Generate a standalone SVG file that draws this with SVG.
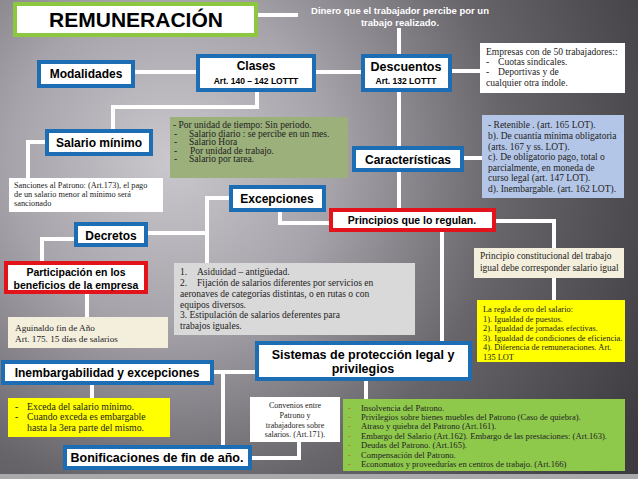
<svg xmlns="http://www.w3.org/2000/svg" width="638" height="479" viewBox="0 0 638 479">
<defs>
<radialGradient id="bg" cx="170" cy="160" r="540" gradientUnits="userSpaceOnUse">
<stop offset="0" stop-color="#cac7cd"/>
<stop offset="0.3" stop-color="#a6a3aa"/>
<stop offset="0.62" stop-color="#67646a"/>
<stop offset="1" stop-color="#3d3b3f"/>
</radialGradient>
<style>
.bb{fill:#fff;stroke:#1c6db4;stroke-width:4}
.rb{fill:#fff;stroke:#e2131b;stroke-width:4}
.c{stroke:#fff;stroke-width:4;fill:none}
.h{font-family:"Liberation Sans",Arial,sans-serif;font-weight:bold;fill:#000;text-anchor:middle}
.s{font-family:"Liberation Serif","Times New Roman",serif;font-size:9.5px;fill:#222}
.d{fill:#c55a11}
</style>
</defs>
<rect x="0" y="0" width="638" height="479" fill="url(#bg)"/>
<rect x="0" y="474" width="638" height="5" fill="#a9a9ab"/>

<g id="connectors">
<path class="c" d="M256 15 H298"/>
<path class="c" d="M399 28 V56"/>
<path class="c" d="M133 72 H198"/>
<path class="c" d="M314 72 H363"/>
<path class="c" d="M450 71 H481"/>
<path class="c" d="M257 90 V107 H113 V131"/>
<path class="c" d="M47 142 H28 V178"/>
<path class="c" d="M399 90 V148"/>
<path class="c" d="M462 158 H482"/>
<path class="c" d="M399 170 V209"/>
<path class="c" d="M231 198 H207 V263"/>
<path class="c" d="M146 233 H207"/>
<path class="c" d="M280 210 V223 H331"/>
<path class="c" d="M76 239 H42 V263"/>
<path class="c" d="M87 293 V317"/>
<path class="c" d="M494 221 H554 V248"/>
<path class="c" d="M554 277 V300"/>
<path class="c" d="M442 230 V343"/>
<path class="c" d="M257 372 H212"/>
<path class="c" d="M223 372 V447"/>
<path class="c" d="M92 383 V398"/>
<path class="c" d="M250 458 H299 V442"/>
<path class="c" d="M366 379 V399"/>
</g>

<g id="remuneracion">
<rect x="15" y="4" width="241" height="31" fill="#fff" stroke="#8dc63f" stroke-width="4"/>
<text class="h" x="136" y="27" font-size="21">REMUNERACIÓN</text>
</g>
<g id="dinero">
<text x="400" y="14" font-family="Liberation Sans,Arial,sans-serif" font-weight="bold" font-size="9.5" fill="#fff" text-anchor="middle">Dinero que el trabajador percibe por un</text>
<text x="400" y="26" font-family="Liberation Sans,Arial,sans-serif" font-weight="bold" font-size="9.5" fill="#fff" text-anchor="middle">trabajo realizado.</text>
</g>
<g id="modalidades">
<rect class="bb" x="39" y="62" width="94" height="24"/>
<text class="h" x="86" y="78" font-size="12">Modalidades</text>
</g>
<g id="clases">
<rect class="bb" x="198" y="56" width="116" height="34"/>
<text class="h" x="256" y="70" font-size="12">Clases</text>
<text class="h" x="256" y="84" font-size="8.5">Art. 140 – 142 LOTTT</text>
</g>
<g id="descuentos">
<rect class="bb" x="363" y="56" width="87" height="34"/>
<text class="h" x="406" y="71" font-size="12.5">Descuentos</text>
<text class="h" x="406" y="84" font-size="8.5">Art. 132 LOTTT</text>
</g>
<g id="empresas">
<rect x="480" y="43" width="145" height="50" fill="#fff"/>
<text class="s" x="486" y="55" style="font-size:9.6px">Empresas con de 50 trabajadores::</text>
<text class="s" x="486" y="65" style="font-size:9.6px">-</text><text class="s" x="498" y="65" style="font-size:9.6px">Cuotas sindicales.</text>
<text class="s" x="486" y="75" style="font-size:9.6px">-</text><text class="s" x="498" y="75" style="font-size:9.6px">Deportivas y de</text>
<text class="s" x="486" y="86" style="font-size:9.6px">cualquier otra índole.</text>
</g>
<g id="salario-minimo">
<rect class="bb" x="47" y="131" width="104" height="23"/>
<text class="h" x="99" y="147" font-size="12">Salario mínimo</text>
</g>
<g id="sanciones">
<rect x="9" y="178" width="154" height="34" fill="#fff"/>
<text class="s" x="14" y="188" style="font-size:8.3px">Sanciones al Patrono: (Art.173), el pago</text>
<text class="s" x="14" y="197" style="font-size:8.3px">de un salario menor al mínimo será</text>
<text class="s" x="14" y="206" style="font-size:8.3px">sancionado</text>
</g>
<g id="tipos">
<rect x="170" y="117" width="178" height="61" fill="#9bb07b"/>
<text class="s" x="173" y="128">- Por unidad de tiempo: Sin periodo.</text>
<text class="s" x="174" y="136.5">-</text><text class="s" x="189" y="136.5">Salario diario : se percibe en un mes.</text>
<text class="s" x="174" y="145">-</text><text class="s" x="189" y="145">Salario Hora</text>
<text class="s" x="174" y="153.5">-</text><text class="s" x="190" y="153.5">Por unidad de trabajo.</text>
<text class="s" x="174" y="162">-</text><text class="s" x="189" y="162">Salario por tarea.</text>
</g>
<g id="caracteristicas">
<rect class="bb" x="354" y="148" width="108" height="22"/>
<text class="h" x="408" y="164" font-size="12">Características</text>
</g>
<g id="caract-texto">
<rect x="482" y="115" width="142" height="83" fill="#b4c6e7"/>
<text class="s" x="488" y="128" style="font-size:9.5px">- Retenible . (art. 165 LOT).</text>
<text class="s" x="488" y="139" style="font-size:9.5px">b). De cuantía mínima obligatoria</text>
<text class="s" x="488" y="150" style="font-size:9.5px">(arts. 167 y ss. LOT).</text>
<text class="s" x="488" y="160" style="font-size:9.5px">c). De obligatorio pago, total o</text>
<text class="s" x="488" y="171" style="font-size:9.5px">parcialmente, en moneda de</text>
<text class="s" x="488" y="181" style="font-size:9.5px">curso legal (art. 147 LOT).</text>
<text class="s" x="488" y="192" style="font-size:9.5px">d). Inembargable. (art. 162 LOT).</text>
</g>
<g id="excepciones">
<rect class="bb" x="231" y="187" width="93" height="23"/>
<text class="h" x="277" y="203" font-size="12">Excepciones</text>
</g>
<g id="principios">
<rect class="rb" x="331" y="210" width="163" height="20"/>
<text class="h" x="412" y="224" font-size="10.5">Principios que lo regulan.</text>
</g>
<g id="decretos">
<rect class="bb" x="76" y="224" width="70" height="21"/>
<text class="h" x="111" y="240" font-size="12">Decretos</text>
</g>
<g id="participacion">
<rect class="rb" x="6" y="263" width="140" height="29"/>
<text class="h" x="76" y="276" font-size="10.5">Participación en los</text>
<text class="h" x="76" y="289" font-size="10.5">beneficios de la empresa</text>
</g>
<g id="aguinaldo">
<rect x="8" y="317" width="160" height="31" fill="#f4efdd"/>
<text class="s" x="15" y="331" style="font-size:9.2px">Aguinaldo fin de Año</text>
<text class="s" x="15" y="342" style="font-size:9.2px">Art. 175. 15 días de salarios</text>
</g>
<g id="excepciones-texto">
<rect x="174" y="263" width="241" height="72" fill="#d9d9d9"/>
<text class="s" x="180" y="275">1.</text><text class="s" x="197" y="275">Asiduidad – antigüedad.</text>
<text class="s" x="180" y="286">2.</text><text class="s" x="197" y="286">Fijación de salarios diferentes por servicios en</text>
<text class="s" x="180" y="297">aeronaves de categorías distintas, o en rutas o con</text>
<text class="s" x="180" y="308">equipos diversos.</text>
<text class="s" x="180" y="318">3. Estipulación de salarios deferentes para</text>
<text class="s" x="180" y="329">trabajos iguales.</text>
</g>
<g id="constitucional">
<rect x="474" y="248" width="150" height="30" fill="#f4efdd"/>
<text class="s" x="480" y="259" style="font-size:9.4px">Principio constitucional del trabajo</text>
<text class="s" x="480" y="271" style="font-size:9.4px">igual debe corresponder salario igual</text>
</g>
<g id="regla-oro">
<rect x="477" y="300" width="148" height="62" fill="#ffff00"/>
<text class="s" x="483" y="312" style="font-size:8.4px">La regla de oro del salario:</text>
<text class="s" x="483" y="321.5" style="font-size:8.4px">1). Igualdad de puestos.</text>
<text class="s" x="483" y="331" style="font-size:8.4px">2). Igualdad de jornadas efectivas.</text>
<text class="s" x="483" y="340.5" style="font-size:8.4px">3). Igualdad de condiciones de eficiencia.</text>
<text class="s" x="483" y="350" style="font-size:8.4px">4). Diferencia de remuneraciones. Art.</text>
<text class="s" x="483" y="359.5" style="font-size:8.4px">135 LOT</text>
</g>
<g id="sistemas">
<rect class="bb" x="257" y="343" width="213" height="36"/>
<text class="h" x="363" y="359" font-size="12.5">Sistemas de protección legal y</text>
<text class="h" x="363" y="373" font-size="12.5">privilegios</text>
</g>
<g id="inembargabilidad">
<rect class="bb" x="3" y="362" width="209" height="21"/>
<text class="h" x="107" y="377" font-size="12">Inembargabilidad y excepciones</text>
</g>
<g id="inembargabilidad-texto">
<rect x="8" y="398" width="162" height="39" fill="#ffff00"/>
<text class="s" x="15" y="410" style="font-size:9.8px">-</text><text class="s" x="27" y="410" style="font-size:9.8px">Exceda del salario mínimo.</text>
<text class="s" x="15" y="420" style="font-size:9.8px">-</text><text class="s" x="27" y="420" style="font-size:9.8px">Cuando exceda es embargable</text>
<text class="s" x="27" y="431" style="font-size:9.8px">hasta  la 3era parte del mismo.</text>
</g>
<g id="convenios">
<rect x="250" y="397" width="90" height="45" fill="#fff"/>
<text class="s" x="295" y="408" style="font-size:8px" text-anchor="middle">Convenios entre</text>
<text class="s" x="295" y="418" style="font-size:8px" text-anchor="middle">Patrono y</text>
<text class="s" x="295" y="428" style="font-size:8px" text-anchor="middle">trabajadores sobre</text>
<text class="s" x="295" y="437" style="font-size:8px" text-anchor="middle">salarios. (Art.171).</text>
</g>
<g id="bonificaciones">
<rect class="bb" x="65" y="447" width="185" height="21"/>
<text class="h" x="157" y="462" font-size="12.5">Bonificaciones de fin de año.</text>
</g>
<g id="privilegios">
<rect x="343" y="399" width="282" height="72" fill="#8fc94c"/>
<g font-family="Liberation Serif,Times New Roman,serif" font-size="8.6" fill="#222">
<text class="d" x="348" y="411">-</text><text x="361" y="411">Insolvencia del Patrono.</text>
<text class="d" x="348" y="420">-</text><text x="361" y="420">Privilegios sobre bienes muebles del Patrono (Caso de quiebra).</text>
<text class="d" x="348" y="429">-</text><text x="361" y="429">Atraso y quiebra del Patrono (Art.161).</text>
<text class="d" x="348" y="439">-</text><text x="361" y="439">Embargo del Salario (Art.162). Embargo de las prestaciones: (Art.163).</text>
<text class="d" x="348" y="448">-</text><text x="361" y="448">Deudas del Patrono. (Art.165).</text>
<text class="d" x="348" y="458">-</text><text x="361" y="458">Compensación del Patrono.</text>
<text class="d" x="348" y="467">-</text><text x="361" y="467">Economatos y proveedurías en centros de trabajo. (Art.166)</text>
</g>
</g>
</svg>
